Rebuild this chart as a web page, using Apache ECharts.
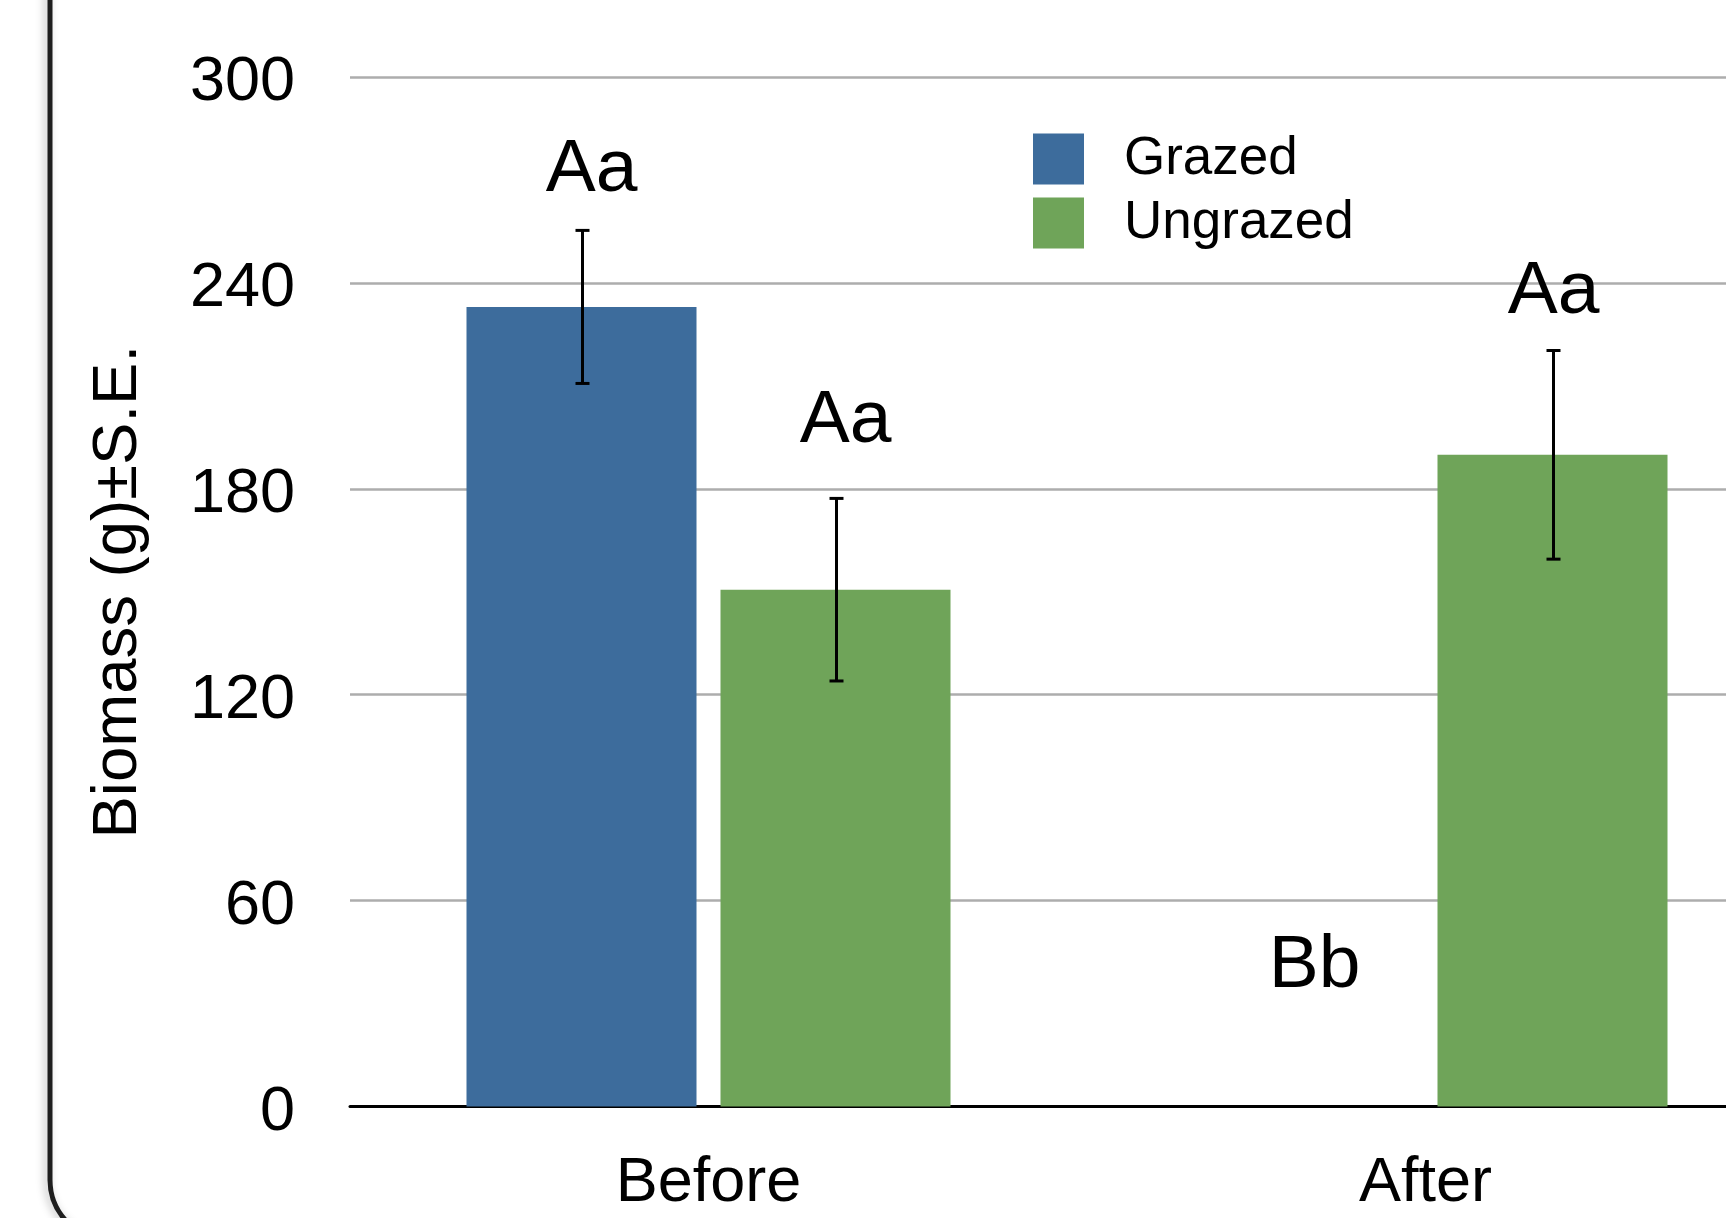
<!DOCTYPE html>
<html>
<head>
<meta charset="utf-8">
<script src="https://cdn.jsdelivr.net/npm/echarts@6/dist/echarts.min.js"></script>
<style>
html,body{margin:0;padding:0;background:#fff;}
#chart{width:1726px;height:1218px;}
</style>
</head>
<body>
<div id="chart"></div>
<script>
// ---- data ----
const categories = ['Before', 'After'];
const seriesNames = ['Grazed', 'Ungrazed'];
const grazedMean = [233.0, 0];
const grazedSE = [22.3, 0];
const ungrazedMean = [150.6, 189.9];
const ungrazedSE = [26.6, 30.4];
const grazedLetters = ['Aa', 'Bb'];
const ungrazedLetters = ['Aa', 'Aa'];
const grazedLetterAt = [274.4, 42.2];
const ungrazedLetterAt = [201.0, 238.7];
const yTicks = [0, 60, 120, 180, 240, 300];

// ---- styles ----
const FONT = '"Liberation Sans", Arial, Helvetica, sans-serif';
const BLUE = '#3d6c9c';
const GREEN = '#6fa459';
const BAR_W = 230;
const BAR_GAP = 24;
const OFFSET = (BAR_W + BAR_GAP) / 2;
const grazedNudge = [10, 16];
const ungrazedNudge = [10, 1];
const LETTER_DY = 5;

function errData(mean, se) {
  return categories.map((c, i) => [i, mean[i], se[i]]);
}
function letterData(at, letters) {
  return categories.map((c, i) => [i, at[i], letters[i]]);
}

function errRender(sign) {
  return function (params, api) {
    const i = api.value(0), m = api.value(1), se = api.value(2);
    if (!se) return null;
    const top = api.coord([i, m + se]);
    const bot = api.coord([i, m - se]);
    const x = top[0] + sign * OFFSET + 1;
    const cap = 7;
    const st = { stroke: '#000', lineWidth: 3 };
    return {
      type: 'group',
      children: [
        { type: 'line', shape: { x1: x, y1: top[1], x2: x, y2: bot[1] }, style: st },
        { type: 'line', shape: { x1: x - cap, y1: top[1], x2: x + cap, y2: top[1] }, style: st },
        { type: 'line', shape: { x1: x - cap, y1: bot[1], x2: x + cap, y2: bot[1] }, style: st }
      ]
    };
  };
}
function letterRender(sign, nudge) {
  return function (params, api) {
    const i = api.value(0), v = api.value(1);
    const p = api.coord([i, v]);
    const txt = (sign < 0 ? grazedLetters : ungrazedLetters)[i];
    return {
      type: 'text',
      x: p[0] + sign * OFFSET + nudge[i],
      y: p[1] + LETTER_DY,
      style: { text: txt, font: '75px ' + FONT, fill: '#000', align: 'center', verticalAlign: 'middle' }
    };
  };
}

const chart = echarts.init(document.getElementById('chart'), null, { renderer: 'canvas' });
chart.setOption({
  animation: false,
  backgroundColor: '#fff',
  graphic: [{
    type: 'rect',
    shape: { x: 50, y: -100, width: 1900, height: 1340, r: 60 },
    style: { fill: null, stroke: '#1e1e1e', lineWidth: 5, shadowBlur: 8, shadowColor: 'rgba(0,0,0,0.25)', shadowOffsetX: -3 },
    z: -10,
    silent: true
  }],
  legend: {
    orient: 'vertical',
    left: 1033,
    top: 132,
    padding: 0,
    itemWidth: 51,
    itemHeight: 51,
    itemGap: 10,
    icon: 'rect',
    data: seriesNames,
    textStyle: { fontFamily: FONT, fontSize: 53, lineHeight: 46, color: '#000', padding: [8, 0, 0, 35] }
  },
  grid: { left: 350, top: 77, width: 1434, height: 1029.5, containLabel: false, outerBoundsMode: 'none' },
  xAxis: {
    type: 'category',
    data: categories,
    axisTick: { show: false },
    axisLine: { lineStyle: { color: '#000', width: 3 } },
    axisLabel: { fontFamily: FONT, fontSize: 63, color: '#000', margin: 46 }
  },
  yAxis: {
    type: 'value',
    min: yTicks[0],
    max: yTicks[yTicks.length - 1],
    interval: yTicks[1] - yTicks[0],
    name: 'Biomass (g)±S.E.',
    nameLocation: 'middle',
    nameGap: 200,
    nameTextStyle: { fontFamily: FONT, fontSize: 63.5, color: '#000' },
    axisLine: { show: false },
    axisTick: { show: false },
    axisLabel: { fontFamily: FONT, fontSize: 63, color: '#000', margin: 55, verticalAlign: 'top', lineHeight: 12 },
    splitLine: { lineStyle: { color: '#adadad', width: 2.5 } }
  },
  series: [
    { name: seriesNames[0], type: 'bar', data: grazedMean, barWidth: BAR_W, barGap: (BAR_GAP / BAR_W * 100) + '%', itemStyle: { color: BLUE } },
    { name: seriesNames[1], type: 'bar', data: ungrazedMean, barWidth: BAR_W, barGap: (BAR_GAP / BAR_W * 100) + '%', itemStyle: { color: GREEN } },
    { type: 'custom', data: errData(grazedMean, grazedSE), renderItem: errRender(-1), encode: { x: 0, y: 1 }, z: 5, silent: true },
    { type: 'custom', data: errData(ungrazedMean, ungrazedSE), renderItem: errRender(1), encode: { x: 0, y: 1 }, z: 5, silent: true },
    { type: 'custom', data: letterData(grazedLetterAt, grazedLetters), renderItem: letterRender(-1, grazedNudge), encode: { x: 0, y: 1 }, z: 6, silent: true },
    { type: 'custom', data: letterData(ungrazedLetterAt, ungrazedLetters), renderItem: letterRender(1, ungrazedNudge), encode: { x: 0, y: 1 }, z: 6, silent: true }
  ]
});
</script>
</body>
</html>
